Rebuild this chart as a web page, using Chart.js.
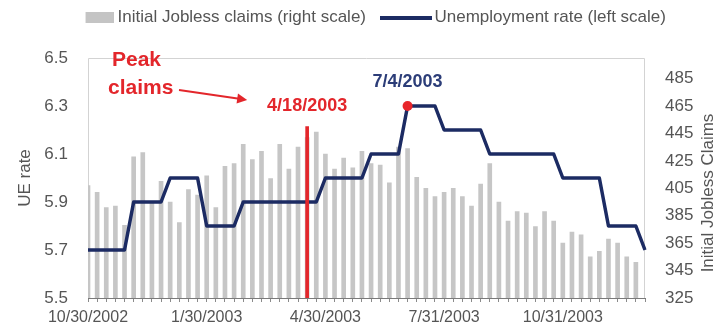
<!DOCTYPE html>
<html>
<head>
<meta charset="utf-8">
<script src="https://cdn.jsdelivr.net/npm/chart.js@4.4.1/dist/chart.umd.min.js"></script>
<style>
html,body{margin:0;padding:0;background:#fff;}
#wrap{width:723px;height:329px;position:relative;}
</style>
</head>
<body>
<div id="wrap"><canvas id="c" width="723" height="329"></canvas></div>
<script>
// ---- data ----
const weeks = [
  '10/30/2002','11/6/2002','11/13/2002','11/20/2002','11/27/2002','12/4/2002','12/11/2002','12/18/2002','12/25/2002',
  '1/1/2003','1/8/2003','1/15/2003','1/22/2003','1/29/2003','2/5/2003','2/12/2003','2/19/2003','2/26/2003',
  '3/5/2003','3/12/2003','3/19/2003','3/26/2003','4/2/2003','4/9/2003','4/16/2003','4/23/2003','4/30/2003',
  '5/7/2003','5/14/2003','5/21/2003','5/28/2003','6/4/2003','6/11/2003','6/18/2003','6/25/2003',
  '7/2/2003','7/9/2003','7/16/2003','7/23/2003','7/30/2003','8/6/2003','8/13/2003','8/20/2003','8/27/2003',
  '9/3/2003','9/10/2003','9/17/2003','9/24/2003','10/1/2003','10/8/2003','10/15/2003','10/22/2003','10/29/2003',
  '11/5/2003','11/12/2003','11/19/2003','11/26/2003','12/3/2003','12/10/2003','12/17/2003','12/24/2003','12/31/2003'
];
const jobless_claims = [
  407,402,391,392,378,428,431,395,410,395,380,404,400,414,391,421,423,437,426,432,
  412,437,419,435,442,446,430,419,427,420,432,423,422,409,435,434,413,405,399,402,
  405,399,392,408,423,395,381,388,387,377,388,381,365,373,371,355,359,368,365,355,
  351,null
];
const ue_rate = [
  5.7,5.7,5.7,5.7,5.7,
  5.9,5.9,5.9,5.9,
  6.0,6.0,6.0,6.0,
  5.8,5.8,5.8,5.8,
  5.9,5.9,5.9,5.9,5.9,5.9,5.9,5.9,5.9,
  6.0,6.0,6.0,6.0,6.0,
  6.1,6.1,6.1,6.1,
  6.3,6.3,6.3,6.3,
  6.2,6.2,6.2,6.2,6.2,
  6.1,6.1,6.1,6.1,6.1,6.1,6.1,6.1,
  6.0,6.0,6.0,6.0,6.0,
  5.8,5.8,5.8,5.8,
  5.7
];
const left_ticks = [5.5,5.7,5.9,6.1,6.3,6.5];
const right_ticks = [325,345,365,385,405,425,445,465,485];
const x_tick_weeks = ['10/30/2002','1/29/2003','4/30/2003','7/30/2003','10/29/2003'];
const x_tick_labels = ['10/30/2002','1/30/2003','4/30/2003','7/31/2003','10/31/2003'];
const peak_claims_week = '4/16/2003';
const peak_claims_label = '4/18/2003';
const peak_claims_line_top = 450;
const peak_ue_week = '7/2/2003';
const peak_ue_label = '7/4/2003';

// ---- derived ----
const peakLine = weeks.map(w => w === peak_claims_week ? peak_claims_line_top : null);
const peakDot = weeks.map((w, i) => w === peak_ue_week ? ue_rate[i] : null);

const FONT = '"Liberation Sans", Arial, Helvetica, sans-serif';
Chart.defaults.font.family = FONT;
Chart.defaults.color = '#555';

function swatch(w, h, x0, x1, color) {
  const c = document.createElement('canvas');
  c.width = w; c.height = h;
  const g = c.getContext('2d');
  g.fillStyle = color;
  g.fillRect(x0, 0, x1 - x0, h);
  return c;
}
const barSwatch = swatch(61, 11, 33, 61, '#c4c4c4');
const lineSwatch = swatch(64, 4, 12, 64, '#1c2b63');

const borderPlugin = {
  id: 'plotBorder',
  beforeDatasetsDraw(chart) {
    const ca = chart.chartArea, ctx = chart.ctx;
    ctx.save();
    ctx.strokeStyle = '#d3d3d3';
    ctx.lineWidth = 1;
    ctx.beginPath();
    ctx.moveTo(ca.left + 0.5, ca.bottom);
    ctx.lineTo(ca.left + 0.5, ca.top + 0.5);
    ctx.lineTo(ca.right - 0.5, ca.top + 0.5);
    ctx.lineTo(ca.right - 0.5, ca.bottom);
    ctx.stroke();
    ctx.restore();
  }
};

const notePlugin = {
  id: 'notes',
  afterDatasetsDraw(chart) {
    const ca = chart.chartArea, ctx = chart.ctx;
    const xs = chart.scales.x, yL = chart.scales.yL, yR = chart.scales.yR;
    const iPeak = weeks.indexOf(peak_claims_week);
    const iUE = weeks.indexOf(peak_ue_week);
    const px = xs.getPixelForValue(iPeak);
    const labelY = yR.getPixelForValue(465);
    ctx.save();
    ctx.fillStyle = '#e3262b';
    ctx.strokeStyle = '#e3262b';
    ctx.textBaseline = 'middle';
    ctx.textAlign = 'left';
    ctx.font = 'bold 21px ' + FONT;
    ctx.fillText('Peak', ca.left + 24, ca.top + 2);
    ctx.fillText('claims', ca.left + 20, ca.top + 30);
    // arrow
    const x0 = ca.left + 91, y0 = ca.top + 32;
    const x1 = px - 60, y1 = labelY - 6;
    const ang = Math.atan2(y1 - y0, x1 - x0);
    ctx.lineWidth = 2;
    ctx.beginPath();
    ctx.moveTo(x0, y0);
    ctx.lineTo(x1 - 8 * Math.cos(ang), y1 - 8 * Math.sin(ang));
    ctx.stroke();
    ctx.beginPath();
    ctx.moveTo(x1, y1);
    ctx.lineTo(x1 - 10 * Math.cos(ang) + 5 * Math.sin(ang), y1 - 10 * Math.sin(ang) - 5 * Math.cos(ang));
    ctx.lineTo(x1 - 10 * Math.cos(ang) - 5 * Math.sin(ang), y1 - 10 * Math.sin(ang) + 5 * Math.cos(ang));
    ctx.closePath();
    ctx.fill();
    // date labels
    ctx.font = 'bold 18px ' + FONT;
    ctx.textAlign = 'center';
    ctx.fillText(peak_claims_label, px, labelY);
    ctx.fillStyle = '#2c3d78';
    ctx.fillText(peak_ue_label, xs.getPixelForValue(iUE), yL.getPixelForValue(ue_rate[iUE]) - 24);
    // right axis title
    ctx.fillStyle = '#555';
    ctx.font = '17px ' + FONT;
    ctx.translate(chart.width - 15, (ca.top + ca.bottom) / 2 + 15);
    ctx.rotate(-Math.PI / 2);
    ctx.fillText('Initial Jobless Claims', 0, 0);
    ctx.restore();
  }
};

new Chart(document.getElementById('c'), {
  data: {
    labels: weeks,
    datasets: [
      {
        type: 'bar', label: 'Initial Jobless claims (right scale)', data: jobless_claims,
        yAxisID: 'yR', backgroundColor: '#c6c6c6', barThickness: 4, grouped: false, order: 4
      },
      {
        type: 'line', label: 'Unemployment rate (left scale)', data: ue_rate,
        yAxisID: 'yL', borderColor: '#1c2b63', borderWidth: 3.5, pointRadius: 0, tension: 0,
        borderJoinStyle: 'round', order: 2
      },
      {
        type: 'bar', label: 'Peak claims', data: peakLine,
        yAxisID: 'yR', backgroundColor: '#e3262b', barThickness: 3, grouped: false, order: 1
      },
      {
        type: 'line', label: 'Peak UE rate', data: peakDot,
        yAxisID: 'yL', showLine: false, pointRadius: 5, pointBackgroundColor: '#e8262b',
        pointBorderWidth: 0, order: 0
      }
    ]
  },
  options: {
    responsive: false,
    devicePixelRatio: 1,
    animation: false,
    layout: { padding: { top: 1, left: 0, right: 0, bottom: 0 } },
    plugins: {
      tooltip: { enabled: false },
      legend: {
        position: 'top',
        labels: {
          usePointStyle: true,
          pointStyleWidth: 52,
          boxHeight: 12,
          padding: 8,
          color: '#555',
          font: { size: 17 },
          generateLabels: () => [
            { text: 'Initial Jobless claims (right scale)', pointStyle: barSwatch, fillStyle: '#c4c4c4', strokeStyle: '#c4c4c4', lineWidth: 0, hidden: false, datasetIndex: 0, fontColor: '#555' },
            { text: 'Unemployment rate (left scale)', pointStyle: lineSwatch, fillStyle: '#1c2b63', strokeStyle: '#1c2b63', lineWidth: 0, hidden: false, datasetIndex: 1, fontColor: '#555' }
          ]
        }
      }
    },
    scales: {
      xTop: {
        type: 'category', position: 'top',
        grid: { display: false, drawTicks: false }, border: { display: false },
        ticks: { display: false },
        afterFit: s => { s.height = 22; }
      },
      x: {
        type: 'category', position: 'bottom', offset: false,
        grid: { display: true, drawOnChartArea: false, drawTicks: true, tickLength: 4, color: '#8a8a8a', offset: false },
        border: { display: true, color: '#7a7a7a', width: 1 },
        ticks: {
          autoSkip: false, maxRotation: 0, minRotation: 0, padding: 6,
          font: { size: 16 }, color: '#555',
          callback: (v, i) => { const k = x_tick_weeks.indexOf(weeks[i]); return k >= 0 ? x_tick_labels[k] : ''; }
        },
        afterFit: s => { s.height = 31; }
      },
      yL: {
        type: 'linear', position: 'left', min: 5.5, max: 6.5,
        afterBuildTicks: s => { s.ticks = left_ticks.map(v => ({ value: v })); },
        ticks: { callback: v => Number(v).toFixed(1), font: { size: 17 }, color: '#555', padding: 20 },
        grid: { display: false, drawTicks: false }, border: { display: false },
        title: { display: true, text: 'UE rate', font: { size: 17 }, color: '#555', padding: { top: 15, bottom: 0 } },
        afterFit: s => { s.width = 88; }
      },
      yR: {
        type: 'linear', position: 'right', min: 325, max: 500,
        afterBuildTicks: s => { s.ticks = right_ticks.map(v => ({ value: v })); },
        ticks: { font: { size: 17 }, color: '#555', padding: 20 },
        grid: { display: false, drawTicks: false }, border: { display: false },
        afterFit: s => { s.width = 78; }
      }
    }
  },
  plugins: [borderPlugin, notePlugin]
});
</script>
</body>
</html>
